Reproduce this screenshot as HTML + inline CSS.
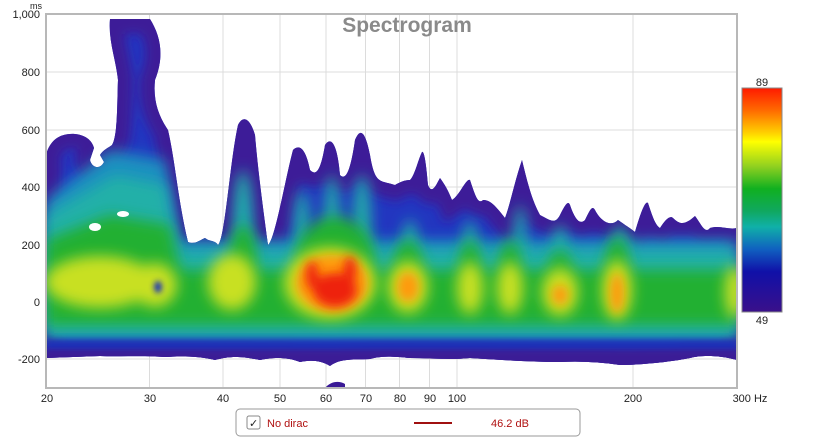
<!DOCTYPE html>
<html><head><meta charset="utf-8"><style>
body{margin:0;background:#fff;width:816px;height:439px;overflow:hidden;font-family:"Liberation Sans",sans-serif}
</style></head><body>
<svg width="816" height="439" viewBox="0 0 816 439" xmlns="http://www.w3.org/2000/svg" font-family="Liberation Sans, sans-serif">
<defs>
<filter id="b8" x="-50%" y="-50%" width="200%" height="200%"><feGaussianBlur stdDeviation="7"/></filter>
<filter id="b5" x="-50%" y="-50%" width="200%" height="200%"><feGaussianBlur stdDeviation="5"/></filter>
<filter id="b3" x="-50%" y="-50%" width="200%" height="200%"><feGaussianBlur stdDeviation="3"/></filter>
<linearGradient id="cb" x1="0" y1="0" x2="0" y2="1">
<stop offset="0" stop-color="#ff1a00"/><stop offset="0.1" stop-color="#ff6a00"/><stop offset="0.2" stop-color="#ffd000"/><stop offset="0.24" stop-color="#ffff00"/><stop offset="0.35" stop-color="#90d020"/><stop offset="0.45" stop-color="#10b020"/><stop offset="0.55" stop-color="#10a860"/><stop offset="0.62" stop-color="#10b0a8"/><stop offset="0.72" stop-color="#1060c0"/><stop offset="0.82" stop-color="#1010a8"/><stop offset="1" stop-color="#3a108a"/>
</linearGradient>
<clipPath id="env"><path id="envp" d="M46,155 C50,140 60,133 75,134 C85,135 92,140 94,148 L90,160 C92,168 100,170 104,162 L100,155 C103,150 108,148 112,145 C118,135 117,100 118,80 C116,60 108,40 110,19 L150,19 C160,35 165,55 155,80 C153,100 158,115 168,130 C175,160 178,200 188,242 C195,245 200,240 205,238 C210,242 215,240 218,245 C225,240 230,160 238,125 C243,115 250,118 255,135 C258,170 262,200 268,245 C275,240 285,180 293,150 C298,145 305,145 310,170 C315,175 320,175 325,145 C330,137 337,140 340,175 C345,180 350,175 355,140 C360,128 365,130 370,155 C375,185 380,180 395,185 C400,182 405,180 410,180 C415,175 418,160 422,152 C425,150 427,175 428,185 C432,195 436,185 440,178 C445,185 448,190 452,200 C460,195 466,178 470,180 C475,195 478,205 483,200 C490,200 495,205 505,218 C510,205 515,180 522,160 C528,185 532,200 540,215 C550,220 555,225 560,215 C565,205 568,200 570,205 C575,220 580,225 585,220 C590,210 592,205 595,210 C600,220 610,228 618,220 C625,225 630,228 635,232 C640,215 645,200 648,203 C652,215 655,225 660,228 C665,220 670,215 673,218 C680,225 685,225 695,216 C700,222 705,235 710,228 C720,225 728,230 737,228 L737,360 C720,355 700,355 690,358 C670,362 640,365 620,365 C600,362 580,361 560,362 C530,362 500,360 470,358 C450,360 430,358 410,358 C390,356 380,356 370,359 C355,360 340,358 330,366 C320,360 310,360 300,362 C285,356 270,358 260,360 C240,356 230,356 215,360 C200,356 180,356 165,357 C140,355 120,357 100,356 L46,358 Z"/></clipPath>
</defs>
<rect x="46" y="14" width="691" height="374" fill="#fff"/>
<g stroke="#dcdcdc" stroke-width="1">
<line x1="149.5" y1="14" x2="149.5" y2="388"/><line x1="223" y1="14" x2="223" y2="388"/><line x1="280" y1="14" x2="280" y2="388"/><line x1="326" y1="14" x2="326" y2="388"/><line x1="365.5" y1="14" x2="365.5" y2="388"/><line x1="399.5" y1="14" x2="399.5" y2="388"/><line x1="429.5" y1="14" x2="429.5" y2="388"/><line x1="457" y1="14" x2="457" y2="388"/><line x1="633" y1="14" x2="633" y2="388"/>
<line x1="46" y1="72" x2="737" y2="72"/><line x1="46" y1="130" x2="737" y2="130"/><line x1="46" y1="187" x2="737" y2="187"/><line x1="46" y1="245" x2="737" y2="245"/><line x1="46" y1="302" x2="737" y2="302"/><line x1="46" y1="359" x2="737" y2="359"/>
</g>
<text x="407" y="32" text-anchor="middle" font-size="21" font-weight="bold" fill="#8a8a8a">Spectrogram</text>
<g clip-path="url(#env)">
<rect x="46" y="14" width="691" height="374" fill="#2236c0"/>
<use href="#envp" fill="none" stroke="#3e1c98" stroke-width="30" filter="url(#b5)"/>
<g fill="#1a90c0" filter="url(#b8)">
<rect x="46" y="240" width="691" height="100"/>
<path d="M46,200 L110,150 L165,160 L180,240 L46,240Z"/>
</g>
<g fill="#20b0a8" filter="url(#b8)">
<rect x="46" y="250" width="691" height="85"/>
<path d="M46,215 L115,175 L165,185 L178,255 L46,255Z"/>
<ellipse cx="243" cy="230" rx="10" ry="60"/><ellipse cx="302" cy="240" rx="8" ry="50"/><ellipse cx="332" cy="230" rx="8" ry="55"/><ellipse cx="362" cy="230" rx="9" ry="55"/>
<ellipse cx="410" cy="250" rx="8" ry="30"/><ellipse cx="470" cy="250" rx="7" ry="30"/><ellipse cx="520" cy="245" rx="6" ry="40"/><ellipse cx="560" cy="255" rx="8" ry="30"/><ellipse cx="620" cy="255" rx="8" ry="30"/>
</g>
<g fill="#22b030" filter="url(#b8)">
<rect x="46" y="270" width="691" height="55"/>
<path d="M46,240 L110,215 L170,225 L180,270 L46,270Z"/>
<ellipse cx="243" cy="265" rx="14" ry="40"/><ellipse cx="335" cy="262" rx="40" ry="45"/><ellipse cx="408" cy="275" rx="16" ry="35"/>
<ellipse cx="470" cy="275" rx="12" ry="35"/><ellipse cx="510" cy="275" rx="12" ry="35"/><ellipse cx="560" cy="280" rx="14" ry="30"/><ellipse cx="617" cy="275" rx="13" ry="38"/>
</g>
<g fill="#c8e020" filter="url(#b8)">
<ellipse cx="100" cy="282" rx="55" ry="26"/><ellipse cx="155" cy="285" rx="22" ry="22"/><ellipse cx="232" cy="282" rx="24" ry="28"/>
<ellipse cx="330" cy="283" rx="46" ry="36"/><ellipse cx="408" cy="287" rx="20" ry="26"/><ellipse cx="470" cy="288" rx="13" ry="26"/><ellipse cx="510" cy="288" rx="13" ry="26"/><ellipse cx="560" cy="292" rx="18" ry="24"/><ellipse cx="617" cy="290" rx="15" ry="30"/><ellipse cx="735" cy="292" rx="10" ry="26"/>
</g>
<g fill="#ff9a10" filter="url(#b5)">
<ellipse cx="332" cy="283" rx="36" ry="28"/><ellipse cx="408" cy="287" rx="11" ry="15"/><ellipse cx="617" cy="293" rx="7" ry="20"/><ellipse cx="560" cy="295" rx="8" ry="10"/>
</g>
<g fill="#ee2010" filter="url(#b5)">
<ellipse cx="335" cy="290" rx="22" ry="17"/><ellipse cx="312" cy="275" rx="6" ry="14"/><ellipse cx="350" cy="270" rx="6" ry="14"/>
</g>
<g fill="#1a30b8" filter="url(#b3)">
<rect x="46" y="340" width="691" height="12"/>
<ellipse cx="158" cy="287" rx="4" ry="6"/>
</g>
<rect x="46" y="350" width="691" height="20" fill="#3a1a96" filter="url(#b3)"/>
<g fill="#fff"><ellipse cx="95" cy="227" rx="6" ry="4"/><ellipse cx="123" cy="214" rx="6" ry="3"/></g>
</g>
<path d="M325,388 C330,382 338,380 345,384 L345,388Z" fill="#3a1a96"/>
<rect x="46" y="14" width="691" height="374" fill="none" stroke="#b8b8b8" stroke-width="2"/>
<g font-size="11" fill="#222" text-anchor="end">
<text x="40" y="18">1,000</text><text x="40" y="76">800</text><text x="40" y="134">600</text><text x="40" y="191">400</text><text x="40" y="249">200</text><text x="40" y="306">0</text><text x="40" y="363">-200</text>
</g>
<text x="30" y="9" font-size="9" fill="#222">ms</text>
<g font-size="11" fill="#222" text-anchor="middle">
<text x="47" y="402">20</text><text x="150" y="402">30</text><text x="223" y="402">40</text><text x="280" y="402">50</text><text x="326" y="402">60</text><text x="366" y="402">70</text><text x="400" y="402">80</text><text x="430" y="402">90</text><text x="457" y="402">100</text><text x="633" y="402">200</text><text x="750" y="402">300 Hz</text>
</g>
<rect x="742" y="88" width="40" height="224" fill="url(#cb)" stroke="#888" stroke-width="1"/>
<text x="762" y="86" font-size="11" text-anchor="middle" fill="#222">89</text>
<text x="762" y="324" font-size="11" text-anchor="middle" fill="#222">49</text>
<rect x="236" y="409" width="344" height="27" rx="4" fill="#fff" stroke="#999"/>
<rect x="247" y="416" width="13" height="13" rx="2" fill="#fff" stroke="#888"/>
<text x="249" y="427" font-size="11" fill="#222">✓</text>
<text x="267" y="427" font-size="11" fill="#b01010">No dirac</text>
<line x1="414" y1="423" x2="452" y2="423" stroke="#a01010" stroke-width="2"/>
<text x="491" y="427" font-size="11" fill="#b01010">46.2 dB</text>
</svg>
</body></html>
